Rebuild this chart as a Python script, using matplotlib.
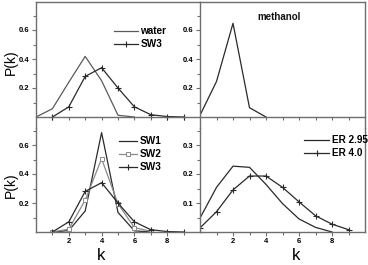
import matplotlib
matplotlib.use("Agg")
import matplotlib.pyplot as plt
from matplotlib.ticker import FixedLocator

plt.rcParams["font.family"] = ["Liberation Sans", "DejaVu Sans"]

# ---- data ----
k_water = [0, 1, 2, 3, 4, 5, 6]
p_water = [0.0, 0.057, 0.24, 0.418, 0.25, 0.012, 0.0]

k_sw3 = [1, 2, 3, 4, 5, 6, 7, 8, 9]
p_sw3 = [0.0, 0.07, 0.28, 0.34, 0.20, 0.07, 0.016, 0.003, 0.0]

k_meth = [0, 1, 2, 3, 4]
p_meth = [0.012, 0.245, 0.646, 0.064, 0.0]

k_sw1 = [1, 2, 3, 4, 5, 6, 7]
p_sw1 = [0.0, 0.01, 0.145, 0.685, 0.135, 0.008, 0.0]

k_sw2 = [1, 2, 3, 4, 5, 6, 7]
p_sw2 = [0.0, 0.02, 0.22, 0.505, 0.195, 0.03, 0.005]

k_er295 = [0, 1, 2, 3, 4, 5, 6, 7, 8]
p_er295 = [0.048, 0.154, 0.227, 0.223, 0.164, 0.098, 0.045, 0.016, 0.0]

k_er40 = [0, 1, 2, 3, 4, 5, 6, 7, 8, 9]
p_er40 = [0.014, 0.07, 0.145, 0.193, 0.193, 0.154, 0.104, 0.056, 0.027, 0.008]

W, H = 368, 265
FRAME = "#6e6e6e"
DARK = "#2a2a2a"
GRAY = "#5a5a5a"
LIGHT = "#8a8a8a"

fig = plt.figure(figsize=(W / 100, H / 100), dpi=100)


def px_axes(x0, y0, x1, y1):
    # pixel box (top-left origin) -> figure axes
    return fig.add_axes([x0 / W, 1 - y1 / H, (x1 - x0) / W, (y1 - y0) / H])


XL, XM, XR = 36, 200, 365
YT, YJ, YZ_TOP, YB = 2, 128, 117, 232
PX_PER_UNIT = 145.0  # pixels per 1.0 on left panels

ax_tl = px_axes(XL, YT, XM, YJ)
ax_tr = px_axes(XM, YT, XR, YJ)
ax_bl = px_axes(XL, YJ, XM, YB)
ax_br = px_axes(XM, YJ, XR, YB)

top_lo = -(YJ - YZ_TOP) / PX_PER_UNIT
top_hi = (YZ_TOP - YT) / PX_PER_UNIT
bot_hi = (YB - YJ) / PX_PER_UNIT

for ax in (ax_tl, ax_tr, ax_bl, ax_br):
    ax.set_xlim(0, 10)
    ax.patch.set_alpha(0)
    for s in ax.spines.values():
        s.set_color(FRAME)
        s.set_linewidth(1.0)
    ax.tick_params(which="both", direction="out", color=FRAME, width=0.8,
                   labelsize=5.5, pad=1.5)
    ax.tick_params(which="major", length=3)
    ax.tick_params(which="minor", length=2)
    ax.xaxis.set_major_locator(FixedLocator([2, 4, 6, 8]))
    ax.xaxis.set_minor_locator(FixedLocator([1, 3, 5, 7, 9]))

ax_tl.set_ylim(top_lo, top_hi)
ax_tr.set_ylim(top_lo, top_hi)
ax_bl.set_ylim(0, bot_hi)
ax_br.set_ylim(0, bot_hi / 2)

for ax in (ax_tl, ax_tr):
    ax.spines["bottom"].set_position(("data", 0))
    ax.tick_params(axis="x", labelbottom=False, which="both", length=2)
    ax.yaxis.set_major_locator(FixedLocator([0.2, 0.4, 0.6]))
    ax.yaxis.set_minor_locator(FixedLocator([0.1, 0.3, 0.5, 0.7]))
ax_bl.yaxis.set_major_locator(FixedLocator([0.2, 0.4, 0.6]))
ax_bl.yaxis.set_minor_locator(FixedLocator([0.1, 0.3, 0.5, 0.7]))
ax_br.yaxis.set_major_locator(FixedLocator([0.1, 0.2, 0.3]))
ax_br.yaxis.set_minor_locator(FixedLocator([0.05, 0.15, 0.25, 0.35]))

ax_tl.spines["right"].set_visible(False)
ax_bl.spines["right"].set_visible(False)
ax_bl.spines["top"].set_visible(False)
ax_br.spines["top"].set_visible(False)

for ax in (ax_tl, ax_tr, ax_bl, ax_br):
    for lab in ax.get_xticklabels() + ax.get_yticklabels():
        lab.set_fontweight("bold")

lw = 0.9
# top-left
ax_tl.plot(k_water, p_water, color=GRAY, lw=lw, label="water")
ax_tl.plot(k_sw3, p_sw3, color=DARK, lw=lw, marker="+", ms=4.5, mew=0.8, label="SW3")
# top-right
ax_tr.plot(k_meth, p_meth, color=DARK, lw=lw)
ax_tr.text(0.345, 0.86, "methanol", transform=ax_tr.transAxes, fontsize=7,
           fontweight="bold", color="#111111")
# bottom-left
ax_bl.plot(k_sw1, p_sw1, color=DARK, lw=lw, label="SW1")
ax_bl.plot(k_sw2, p_sw2, color=LIGHT, lw=lw, marker="s", ms=3.2, mfc="white",
           mec=LIGHT, mew=0.7, label="SW2")
ax_bl.plot(k_sw3, p_sw3, color=DARK, lw=lw, marker="+", ms=4.5, mew=0.8, label="SW3")
# bottom-right
ax_br.plot(k_er295, p_er295, color=DARK, lw=lw, label="ER 2.95")
ax_br.plot(k_er40, p_er40, color=DARK, lw=lw, marker="+", ms=4.5, mew=0.8, label="ER 4.0")

leg_kw = dict(frameon=False, prop={"size": 7.2, "weight": "bold"}, borderpad=0,
              borderaxespad=0, labelspacing=0.3, handletextpad=0.25,
              loc="upper left", bbox_transform=fig.transFigure)
ax_tl.legend(bbox_to_anchor=(114 / W, 1 - 26 / H), handlelength=2.4, **leg_kw)
ax_bl.legend(bbox_to_anchor=(119 / W, 1 - 136 / H), handlelength=1.8, **leg_kw)
ax_br.legend(bbox_to_anchor=(304 / W, 1 - 135 / H), handlelength=2.5, **leg_kw)

fig.text(11 / W, 1 - 62 / H, "P(k)", rotation=90, ha="center", va="center", fontsize=10)
fig.text(11 / W, 1 - 185 / H, "P(k)", rotation=90, ha="center", va="center", fontsize=10)
fig.text(101 / W, 1 - 255 / H, "k", ha="center", va="center", fontsize=12)
fig.text(296 / W, 1 - 255 / H, "k", ha="center", va="center", fontsize=12)

fig.savefig("out.png", dpi=100)
